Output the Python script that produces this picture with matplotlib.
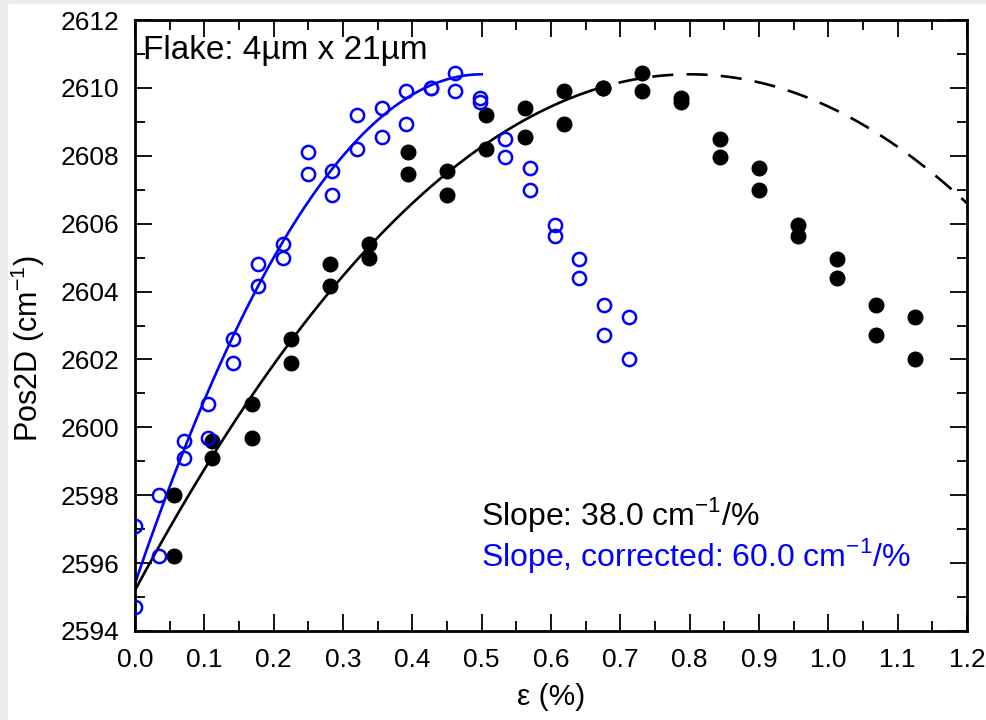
import numpy as np
import matplotlib
matplotlib.use("Agg")
import matplotlib.pyplot as plt
from matplotlib.ticker import MultipleLocator

plt.rcParams['font.family'] = ['Liberation Sans', 'DejaVu Sans']
plt.rcParams['mathtext.fontset'] = 'custom'
plt.rcParams['mathtext.rm'] = 'Liberation Sans'

# strain (%) - measured and corrected
strain = [0.056, 0.111, 0.169, 0.225, 0.281, 0.337, 0.394, 0.450, 0.506, 0.563,
          0.619, 0.675, 0.731, 0.787, 0.844, 0.900, 0.956, 1.013, 1.069, 1.125]
strain_corr = [0.000, 0.035, 0.071, 0.106, 0.142, 0.177, 0.213, 0.249, 0.284, 0.320, 0.356,
               0.391, 0.427, 0.462, 0.498, 0.534, 0.570, 0.606, 0.641, 0.677, 0.713]

# two Pos2D readings per strain step
pos_a = [2598.0, 2599.6, 2600.7, 2602.6, 2604.8, 2605.4, 2608.1, 2607.55, 2609.2, 2609.4,
         2609.9, 2610.0, 2610.45, 2609.7, 2608.5, 2607.65, 2605.95, 2604.95, 2603.6, 2603.25]
pos_b = [2596.2, 2599.1, 2599.7, 2601.9, 2604.15, 2605.0, 2607.45, 2606.85, 2608.2, 2608.55,
         2608.95, 2610.0, 2609.9, 2609.57, 2607.95, 2607.0, 2605.65, 2604.4, 2602.72, 2602.02]
pos_corr_a = [2597.1] + pos_a
pos_corr_b = [2594.7] + pos_b

# quadratic fits (intercept, slope, curvature)
fit_black = (2595.2, 38.0, -23.75)
fit_blue = (2595.4, 60.0, -60.0)

blue = '#0000ff'

fig = plt.figure(figsize=(9.86, 7.2), dpi=100)
# light grey frame of the screenshot
fig.patches.append(plt.Rectangle((0, 0), 7/986, 1, transform=fig.transFigure, color='#ececec', zorder=0))
fig.patches.append(plt.Rectangle((0, 717/720), 1, 3/720, transform=fig.transFigure, color='#ececec', zorder=0))
ax = fig.add_axes([135/986, 89/720, 832/986, 611/720])
ax.set_facecolor('none')

def quad(p, x):
    return p[0] + p[1]*x + p[2]*x**2

xs = np.linspace(0, 0.65, 100)
ax.plot(xs, quad(fit_black, xs), color='black', lw=1.9, zorder=2)
xd = np.linspace(0.65, 1.2, 100)
ax.plot(xd, quad(fit_black, xd), color='black', lw=1.9, ls=(0, (8, 5)), zorder=2)
xb = np.linspace(0, 0.5, 100)
ax.plot(xb, quad(fit_blue, xb), color=blue, lw=1.9, zorder=2)

ax.plot(strain, pos_a, 'o', color='black', ms=10.5, zorder=3)
ax.plot(strain, pos_b, 'o', color='black', ms=10.5, zorder=3)
ax.plot(strain_corr, pos_corr_a, 'o', mfc='none', mec=blue, mew=1.8, ms=9.5, zorder=4)
ax.plot(strain_corr, pos_corr_b, 'o', mfc='none', mec=blue, mew=1.8, ms=9.5, zorder=4)

ax.set_xlim(0, 1.2)
ax.set_ylim(2594, 2612)
ax.xaxis.set_major_locator(MultipleLocator(0.1))
ax.xaxis.set_minor_locator(MultipleLocator(0.05))
ax.yaxis.set_major_locator(MultipleLocator(2))
ax.yaxis.set_minor_locator(MultipleLocator(1))
ax.xaxis.set_major_formatter(plt.FuncFormatter(lambda v, p: f'{v:.1f}'))
ax.tick_params(which='both', direction='in', top=True, right=True, labelsize=19, width=1.3)
ax.tick_params(which='major', length=12)
ax.tick_params(which='minor', length=7)
ax.tick_params(axis='y', which='major', pad=11)
ax.tick_params(axis='x', which='major', pad=12)
for s in ax.spines.values():
    s.set_linewidth(2)

ax.set_xlabel('ε (%)', fontsize=21.5, labelpad=8)
ax.set_ylabel('Pos2D (cm$^{-1}$)', fontsize=22)
ax.yaxis.set_label_coords(-0.106, 0.462)

ax.text(0.010, 0.950, 'Flake: 4µm x 21µm', transform=ax.transAxes, fontsize=24, va='center')
ax.text(0.416, 0.190, 'Slope: 38.0 cm$^{-1}$/%', transform=ax.transAxes, fontsize=23, va='center')
ax.text(0.416, 0.124, 'Slope, corrected: 60.0 cm$^{-1}$/%', transform=ax.transAxes,
        fontsize=23, va='center', color=blue)

fig.savefig('out.png', dpi=100, facecolor='white')
